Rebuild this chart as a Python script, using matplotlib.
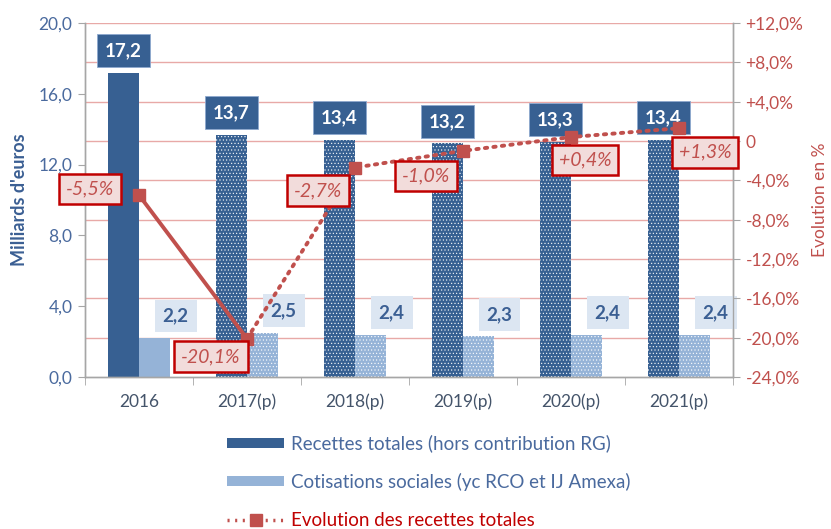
import matplotlib
matplotlib.use("Agg")
import matplotlib.pyplot as plt
from matplotlib.patches import Patch
from matplotlib.lines import Line2D
from matplotlib.transforms import blended_transform_factory
import numpy as np

plt.rcParams['font.family'] = ['Lato', 'DejaVu Sans']
plt.rcParams['hatch.linewidth'] = 0.4

categories = ['2016', '2017(p)', '2018(p)', '2019(p)', '2020(p)', '2021(p)']
recettes_totales = [17.2, 13.7, 13.4, 13.2, 13.3, 13.4]
cotisations = [2.2, 2.5, 2.4, 2.3, 2.4, 2.4]
evolution = [-5.5, -20.1, -2.7, -1.0, 0.4, 1.3]
evolution_labels = ['-5,5%', '-20,1%', '-2,7%', '-1,0%', '+0,4%', '+1,3%']
left_ticks = [0, 4, 8, 12, 16, 20]
right_ticks = [-24, -20, -16, -12, -8, -4, 0, 4, 8, 12]

legend_labels = ['Recettes totales (hors contribution RG)',
                 'Cotisations sociales (yc RCO et IJ Amexa)',
                 'Evolution des recettes totales']

# layout / style constants
DARK = '#376092'
LIGHT = '#95B3D7'
RED = '#C0504D'
BLUE_TXT = '#4A6A9E'
pct_offsets = [(-49, 6), (-36, -18), (-37, -23), (-37, -25), (14, -23), (26, -24)]

fig = plt.figure(figsize=(8.31, 5.29), dpi=100)
ax = fig.add_axes([85/831, 1-377/529, (733-85)/831, (377-23)/529])
ax2 = ax.twinx()

x = np.arange(len(categories))
w = 0.29

ax.set_xlim(-0.5, len(categories) - 0.5)
ax.set_ylim(0, 20)
ax2.set_ylim(-24, 12)

# gridlines following the right axis, drawn behind bars
gtrans = blended_transform_factory(ax.transAxes, ax2.transData)
for t in right_ticks[1:]:
    ax.plot([0, 1], [t, t], transform=gtrans, color='#E8A9A7', lw=1.0, zorder=0.5)

for i in range(len(categories)):
    hatch = None if i == 0 else '.....'
    ax.bar(x[i] - w/2, recettes_totales[i], w, color=DARK, edgecolor='white',
           linewidth=0, hatch=hatch, zorder=2)
    ax.bar(x[i] + w/2, cotisations[i], w, color=LIGHT, edgecolor='white',
           linewidth=0, hatch=hatch, zorder=2)

# value labels
for i in range(len(categories)):
    ax.annotate(f"{recettes_totales[i]:.1f}".replace('.', ','),
                (x[i] - w/2, recettes_totales[i]), xytext=(0, 22),
                textcoords='offset pixels', ha='center', va='center',
                fontsize=13.5, fontweight='bold', color='white', zorder=5,
                bbox=dict(boxstyle='square,pad=0.42', fc=DARK, ec='#8EA9CF', lw=0.6))
    ax.annotate(f"{cotisations[i]:.1f}".replace('.', ','),
                (x[i] + w/2, cotisations[i]), xytext=(21, 22),
                textcoords='offset pixels', ha='center', va='center',
                fontsize=13.5, fontweight='bold', color='#3B5F93', zorder=5,
                bbox=dict(boxstyle='square,pad=0.42', fc='#DCE6F2', ec='none'))

# evolution line
ax2.plot(x[:2], evolution[:2], color=RED, lw=2.8, solid_capstyle='butt', zorder=3)
ax2.plot(x[1:], evolution[1:], color=RED, lw=2.8, linestyle=(0, (0.6, 1.6)),
         dash_capstyle='round', zorder=3)
ax2.plot(x, evolution, linestyle='none', marker='s', markersize=9,
         color=RED, zorder=4)

for i in range(len(categories)):
    ax2.annotate(evolution_labels[i], (x[i], evolution[i]), xytext=pct_offsets[i],
                 textcoords='offset pixels', ha='center', va='center',
                 fontsize=14, fontstyle='italic', color=RED, zorder=6,
                 bbox=dict(boxstyle='square,pad=0.35', fc='#F2DCDB', ec='#C00000', lw=1.8))

# axes styling
def fmt_left(v):
    return f"{v:.1f}".replace('.', ',')

def fmt_right(v):
    if v == 0:
        return '0'
    return (f"{v:+.1f}%").replace('.', ',')

ax.set_yticks(left_ticks)
ax.set_yticklabels([fmt_left(v) for v in left_ticks])
ax2.set_yticks(right_ticks)
ax2.set_yticklabels([fmt_right(v) for v in right_ticks])

ax.set_xticks(x)
ax.set_xticklabels(categories)
ax.set_xticks(np.arange(-0.5, len(categories), 1.0), minor=True)
ax.tick_params(axis='x', which='major', length=0, pad=12, labelsize=12.5, labelcolor='#44546A')
ax.tick_params(axis='x', which='minor', length=6, color='#A6A6A6', direction='out')
ax.tick_params(axis='y', length=5, color='#A6A6A6', labelsize=12.5, labelcolor=BLUE_TXT, pad=4)
ax2.tick_params(axis='y', length=5, color='#A6A6A6', labelsize=12.5, labelcolor=RED, pad=4)

for a in (ax, ax2):
    a.spines['top'].set_visible(False)
    for s in ('left', 'right', 'bottom'):
        a.spines[s].set_color('#A6A6A6')
        a.spines[s].set_linewidth(1.0)

fig.text(20/831, 1-200/529, "Milliards d'euros", rotation=90, ha='center', va='center',
         fontsize=13, fontweight='bold', color='#3B5F93')
fig.text(820/831, 1-200/529, "Evolution en %", rotation=90, ha='center', va='center',
         fontsize=12.5, color=RED)

handles = [Patch(facecolor=DARK, edgecolor='none'),
           Patch(facecolor=LIGHT, edgecolor='none'),
           Line2D([0], [0], color=RED, lw=2.5, linestyle=(0, (0.6, 1.6)),
                  marker='s', markersize=9)]
leg = fig.legend(handles, legend_labels, loc='upper left',
                 bbox_to_anchor=(218/831, 1-425/529), frameon=False,
                 fontsize=13.5, handlelength=3.0, handleheight=0.45,
                 handletextpad=0.4, labelspacing=1.1, borderpad=0)
cols = [BLUE_TXT, BLUE_TXT, '#C00000']
for t, c in zip(leg.get_texts(), cols):
    t.set_color(c)

fig.savefig('out.png', dpi=100)
